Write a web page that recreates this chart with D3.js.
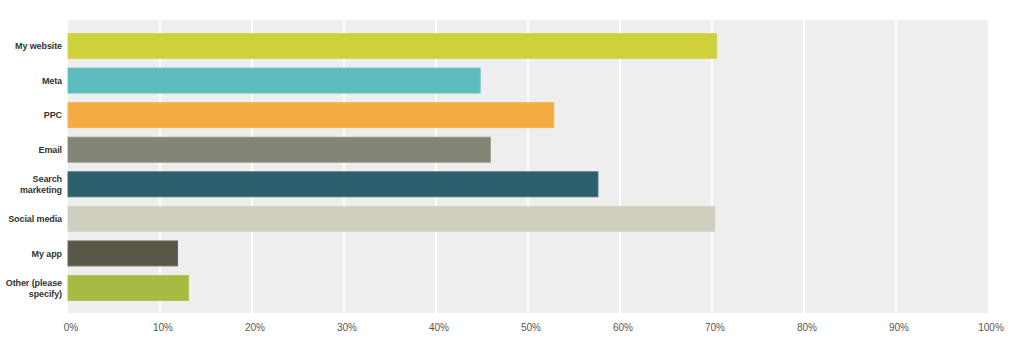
<!DOCTYPE html>
<html><head><meta charset="utf-8">
<script src="https://cdn.jsdelivr.net/npm/d3@7"></script>
<style>body{margin:0;background:#fff;}svg{display:block;}</style>
</head><body>
<svg id="chart" width="1024" height="345"></svg>
<script>
const categories = ["My website","Meta","PPC","Email","Search marketing","Social media","My app","Other (please specify)"];
const categoryLines = [["My website"],["Meta"],["PPC"],["Email"],["Search","marketing"],["Social media"],["My app"],["Other (please","specify)"]];
const values = [70.5, 44.8, 52.8, 45.9, 57.6, 70.3, 11.9, 13.1];
const colors = ["#CED13B","#5CBCBD","#F3AC42","#858577","#2D5E6B","#CFCEBF","#595748","#A9BA43"];
const tickValues = [0,10,20,30,40,50,60,70,80,90,100];

(function(){
const svg = d3.select("#chart");
const mLeft = 68, mRight = 988, mTop = 20, mBottom = 313;
const x = d3.scaleLinear().domain([0,100]).range([mLeft,mRight]);
const y = d3.scaleBand().domain(categories).range([28.7,305.3]).paddingInner(0.25).paddingOuter(0.125);

svg.append("rect").attr("x",mLeft).attr("y",mTop).attr("width",mRight-mLeft).attr("height",mBottom-mTop).attr("fill","#EEEEEE");

svg.append("g").selectAll("line").data(tickValues.filter(t=>t>0&&t<100)).join("line")
  .attr("x1",d=>x(d)).attr("x2",d=>x(d)).attr("y1",mTop).attr("y2",mBottom)
  .attr("stroke","#fff").attr("stroke-width",2);

svg.append("g").selectAll("rect").data(values).join("rect")
  .attr("x",x(0)).attr("y",(d,i)=>y(categories[i])+0.5)
  .attr("width",d=>x(d)-x(0)).attr("height",y.bandwidth()-1)
  .attr("fill",(d,i)=>colors[i])
  .attr("stroke",(d,i)=>{const c=d3.rgb(colors[i]);return d3.rgb((c.r+255)/2*0.2+c.r*0.8,(c.g+255)/2*0.2+c.g*0.8,(c.b+255)/2*0.2+c.b*0.8);})
  .attr("stroke-width",1);

const lab = svg.append("g").attr("font-family","Liberation Sans, Arial, sans-serif").attr("font-size",9).attr("font-weight","bold").attr("fill","#333").attr("letter-spacing",-0.1);
categories.forEach((c,i)=>{
  const lines = categoryLines[i];
  const cy = y(c)+y.bandwidth()/2;
  const t = lab.append("text").attr("text-anchor","end").attr("x",62);
  const lh = 10.5;
  lines.forEach((l,j)=>{
    t.append("tspan").attr("x",62).attr("y",cy + (j-(lines.length-1)/2)*lh + 3.3).text(l);
  });
});

svg.append("g").attr("font-family","Liberation Sans, Arial, sans-serif").attr("font-size",10).attr("fill","#555")
  .selectAll("text").data(tickValues).join("text")
  .attr("x",d=>x(d)+3).attr("y",331).attr("text-anchor","middle").text(d=>d+"%");
})();
</script>
</body></html>
